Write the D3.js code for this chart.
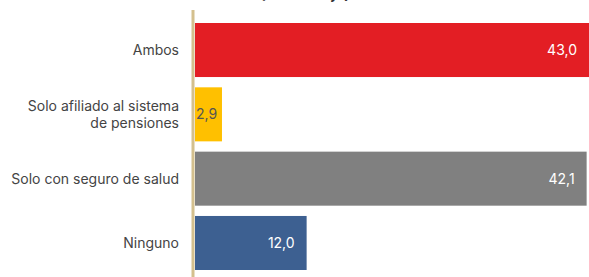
<!DOCTYPE html>
<html>
<head>
<meta charset="utf-8">
<script src="https://cdn.jsdelivr.net/npm/d3@7"></script>
<style>
body { margin: 0; background: #fff; }
svg { display: block; font-family: Inter, "Noto Sans", sans-serif; }
</style>
</head>
<body>
<div id="chart"></div>
<script>
// data
var categories = ["Ambos", "Solo afiliado al sistema|de pensiones", "Solo con seguro de salud", "Ninguno"];
var values = [43.0, 2.9, 42.1, 12.0];
var colors = ["#e31e24", "#ffc000", "#808080", "#3d6091"];
var labelColors = ["#fff", "#555", "#fff", "#fff"];

var width = 589, height = 277;
var left = 195;

var svg = d3.select("#chart").append("svg")
    .attr("width", width)
    .attr("height", height);

// title, mostly cut off at the top of the picture
svg.append("text")
    .attr("x", 305)
    .attr("y", -1)
    .attr("text-anchor", "middle")
    .style("font-size", "15px")
    .style("font-weight", "bold")
    .style("fill", "#333")
    .text("(Porcentaje)");

var x = d3.scaleLinear()
    .domain([0, 43])
    .range([left, 595]);

var y = d3.scaleBand()
    .domain(categories)
    .range([23, 270])
    .paddingInner(0.16)
    .paddingOuter(0);

var g = svg.append("g");

g.selectAll("rect.bar")
    .data(values)
  .enter().append("rect")
    .attr("class", "bar")
    .attr("x", x(0))
    .attr("y", function(d, i) { return y(categories[i]); })
    .attr("width", function(d) { return x(d) - x(0); })
    .attr("height", y.bandwidth())
    .style("fill", function(d, i) { return colors[i]; });

// value labels, inside the bar end (clamped to the visible area)
g.selectAll("text.val")
    .data(values)
  .enter().append("text")
    .attr("class", "val")
    .attr("x", function(d) { return d < 5 ? x(0) + 1 : Math.min(x(d), width) - 12; })
    .attr("y", function(d, i) { return y(categories[i]) + y.bandwidth() / 2; })
    .attr("dy", ".35em")
    .attr("text-anchor", function(d) { return d < 5 ? "start" : "end"; })
    .style("font-size", "14px")
    .style("fill", function(d, i) { return labelColors[i]; })
    .text(function(d) { return d3.format(".1f")(d).replace(".", ","); });

// category labels
var lab = g.selectAll("text.cat")
    .data(categories)
  .enter().append("text")
    .attr("class", "cat")
    .attr("x", 179)
    .attr("y", function(d) { return y(d) + y.bandwidth() / 2; })
    .attr("text-anchor", "end")
    .style("font-size", "14px")
    .style("fill", "#444");

lab.each(function(d) {
  var lines = d.split("|");
  var t = d3.select(this);
  lines.forEach(function(l, k) {
    t.append("tspan")
      .attr("x", 179)
      .attr("dy", k == 0 ? (0.35 - (lines.length - 1) * 0.6) + "em" : "1.2em")
      .text(l);
  });
});

// axis line
svg.append("line")
    .attr("x1", 193).attr("x2", 193)
    .attr("y1", 10).attr("y2", height)
    .style("stroke", "#d4c08e")
    .style("stroke-width", 3);
</script>
</body>
</html>
